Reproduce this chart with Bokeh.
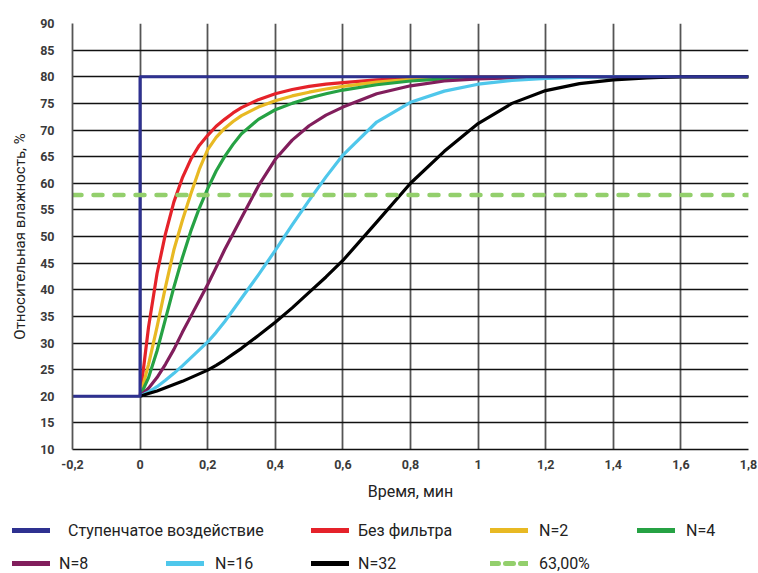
from bokeh.plotting import figure
from bokeh.models import Range1d, FixedTicker, Legend, LegendItem
from bokeh.layouts import column
from bokeh.embed import file_html
from bokeh.resources import INLINE

# ---- data ----
t = [0, 0.025, 0.05, 0.075, 0.1, 0.125, 0.15, 0.175, 0.2, 0.225, 0.25, 0.275, 0.3, 0.35,
     0.4, 0.45, 0.5, 0.55, 0.6, 0.7, 0.8, 0.9, 1.0, 1.1, 1.2, 1.3, 1.4, 1.5, 1.6, 1.8]
no_filter = [20, 33, 43, 50.5, 56.5, 61, 64.5, 67.1, 69, 70.7, 72, 73.2, 74.2, 75.7,
             76.8, 77.6, 78.2, 78.6, 78.9, 79.4, 79.7, 79.85, 79.93, 79.97, 80, 80, 80, 80, 80, 80]
n2 = [20, 26, 33, 40.5, 47.5, 53, 58, 62.6, 66.3, 68.6, 70.3, 71.6, 72.7, 74.3,
      75.5, 76.4, 77.1, 77.7, 78.2, 79, 79.5, 79.75, 79.88, 79.95, 80, 80, 80, 80, 80, 80]
n4 = [20, 23.5, 28.5, 34.5, 40.5, 46, 51, 55.3, 59, 62.3, 65, 67.3, 69.3, 72,
      73.8, 75, 76, 76.8, 77.5, 78.5, 79.2, 79.6, 79.8, 79.9, 79.95, 80, 80, 80, 80, 80]
n8 = [20, 21.5, 23.5, 26, 28.8, 32, 35, 38, 41, 44.2, 47.5, 50.5, 53.5, 59.5,
      64.5, 68.1, 70.8, 72.8, 74.3, 76.8, 78.3, 79.2, 79.6, 79.8, 79.9, 80, 80, 80, 80, 80]
n16 = [20, 20.8, 21.8, 23, 24.3, 25.7, 27.2, 28.7, 30.2, 32, 34, 36.2, 38.4, 42.8,
       47.4, 52.2, 56.8, 61.2, 65.3, 71.5, 75.2, 77.3, 78.6, 79.3, 79.7, 79.9, 80, 80, 80, 80]
n32 = [20, 20.5, 21, 21.6, 22.2, 22.8, 23.5, 24.2, 24.9, 25.8, 26.8, 27.9, 29, 31.4,
       33.9, 36.6, 39.5, 42.4, 45.5, 52.7, 60, 66, 71.2, 75, 77.4, 78.7, 79.4, 79.8, 80, 80]
step_x = [-0.2, 0, 0, 1.8]
step_y = [20, 20, 80, 80]
level_x = [-0.2, 1.8]
level_y = [57.8, 57.8]

x_ticks = [-0.2, 0, 0.2, 0.4, 0.6, 0.8, 1, 1.2, 1.4, 1.6, 1.8]
x_tick_labels = ["-0,2", "0", "0,2", "0,4", "0,6", "0,8", "1", "1,2", "1,4", "1,6", "1,8"]
y_ticks = [10, 15, 20, 25, 30, 35, 40, 45, 50, 55, 60, 65, 70, 75, 80, 85, 90]

series_names = ["Ступенчатое воздействие", "Без фильтра", "N=2", "N=4",
                "N=8", "N=16", "N=32", "63,00%"]
series_colors = ["#2e3190", "#e5222a", "#e8b923", "#26a244",
                 "#811e5c", "#4fc7eb", "#000000", "#93cf6c"]

FONT = "Roboto"

p = figure(width=758, height=505, x_range=Range1d(-0.2, 1.8), y_range=Range1d(10, 90),
           output_backend="svg", toolbar_location=None,
           min_border_left=72, min_border_right=10, min_border_top=23, min_border_bottom=56)
p.frame_align = False
p.outline_line_color = None
p.background_fill_color = "white"

p.xaxis.ticker = FixedTicker(ticks=x_ticks)
p.xaxis.major_label_overrides = {k: v for k, v in zip(x_ticks, x_tick_labels)}
p.yaxis.ticker = FixedTicker(ticks=y_ticks)
p.xgrid.ticker = FixedTicker(ticks=x_ticks)
p.ygrid.ticker = FixedTicker(ticks=y_ticks)

p.xgrid.grid_line_color = "#555555"
p.xgrid.grid_line_width = 1.8
p.ygrid.grid_line_color = "#111111"
p.ygrid.grid_line_width = 1.3

for ax in (p.xaxis[0], p.yaxis[0]):
    ax.major_tick_line_color = None
    ax.minor_tick_line_color = None
    ax.major_label_text_font = FONT
    ax.major_label_text_font_size = "12.5px"
    ax.major_label_text_font_style = "bold"
    ax.major_label_text_color = "#3a3a3a"
    ax.axis_label_text_font = FONT
    ax.axis_label_text_font_style = "normal"
    ax.axis_label_text_color = "#222222"

p.xaxis.axis_label_text_font_size = "16px"
p.yaxis.axis_label_text_font_size = "15px"
p.xaxis.axis_line_color = "#111111"
p.xaxis.axis_line_width = 1.3
p.yaxis.axis_line_color = "#555555"
p.yaxis.axis_line_width = 1.8
p.xaxis.major_label_standoff = 4
p.yaxis.major_label_standoff = 12
p.xaxis.axis_label = "Время, мин"
p.yaxis.axis_label = "Относительная влажность, %"
p.xaxis.axis_label_standoff = 10
p.yaxis.axis_label_standoff = 8

W = 3.2
r_red = p.line(t, no_filter, line_color=series_colors[1], line_width=W, line_join="round")
r_yel = p.line(t, n2, line_color=series_colors[2], line_width=W, line_join="round")
r_grn = p.line(t, n4, line_color=series_colors[3], line_width=W, line_join="round")
r_pur = p.line(t, n8, line_color=series_colors[4], line_width=W, line_join="round")
r_cyn = p.line(t, n16, line_color=series_colors[5], line_width=W, line_join="round")
r_blk = p.line(t, n32, line_color=series_colors[6], line_width=W, line_join="round")
r_blu = p.line(step_x, step_y, line_color=series_colors[0], line_width=W)
r_lvl = p.line(level_x, level_y, line_color=series_colors[7], line_width=4.5,
               line_dash="9 12", line_cap="round")

# ---- legend strip (own figure, proxy renderers with no visible data) ----
lf = figure(width=758, height=68, x_range=Range1d(0, 1), y_range=Range1d(0, 1),
            output_backend="svg", toolbar_location=None,
            min_border=0, min_border_left=0, min_border_right=0,
            min_border_top=0, min_border_bottom=0)
lf.frame_align = False
lf.axis.visible = False
lf.grid.visible = False
lf.outline_line_color = None

nan = float("nan")
leg_renderers = []
for i, c in enumerate(series_colors):
    if i == 7:
        r = lf.line([nan], [nan], line_color=c, line_width=5, line_dash="8 7", line_cap="round")
    else:
        r = lf.line([nan], [nan], line_color=c, line_width=5, line_cap="round")
    leg_renderers.append(r)

# legend placement (screen px inside the strip) and label gap
legend_pos = [(12, 33, 18), (311, 33, 9), (490, 33, 11), (637, 33, 11),
              (12, 0, 9), (166, 0, 11), (311, 0, 9), (490, 0, 11)]
for name, rend, (lx, ly, gap) in zip(series_names, leg_renderers, legend_pos):
    lg = Legend(items=[LegendItem(label=name, renderers=[rend])],
                location=(lx, ly), orientation="horizontal",
                padding=0, margin=0, spacing=0,
                glyph_width=38, glyph_height=20, label_height=20,
                label_standoff=gap,
                border_line_alpha=0, background_fill_alpha=0,
                label_text_font=FONT, label_text_font_size="16px",
                label_text_color="#222222")
    lf.add_layout(lg, "center")

layout = column(p, lf, spacing=0)
open("out.html", "w").write(file_html(layout, INLINE))
